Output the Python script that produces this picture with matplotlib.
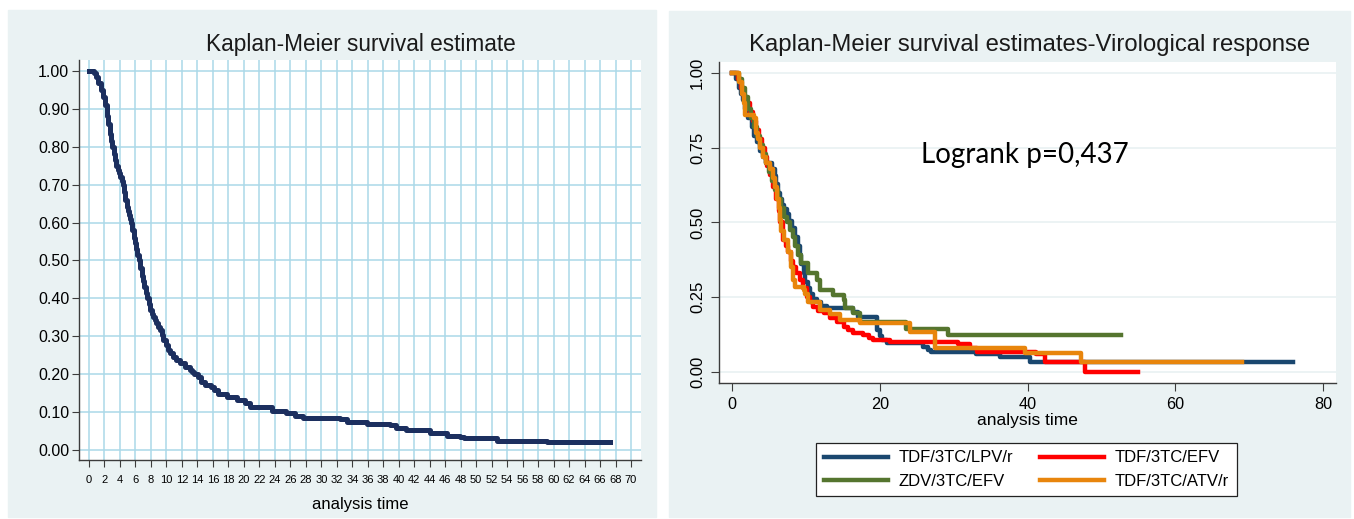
import matplotlib
matplotlib.use("Agg")
import matplotlib.pyplot as plt
from matplotlib.patches import Rectangle
import numpy as np

plt.rcParams['font.family'] = ['Liberation Sans', 'DejaVu Sans']

# overall Kaplan-Meier estimate (left panel)
km_time = [0, 0.6, 0.9, 1.2, 1.5, 1.85, 2.1, 2.3, 2.5, 2.7, 2.85, 3.0, 3.2, 3.36, 3.55, 3.7,
           3.85, 4.0, 4.2, 4.38, 4.55, 4.7, 4.87, 5.05, 5.2, 5.35, 5.46, 5.6, 5.8, 5.95, 6.1,
           6.25, 6.44, 6.6, 6.8, 6.95, 7.15, 7.35, 7.53, 7.7, 7.9, 8.1, 8.3, 8.5, 8.7, 8.95,
           9.17, 9.4, 9.6, 9.9, 10.24, 10.5, 10.8, 11.2, 11.75, 12.4, 13.0, 13.3, 13.6, 14.1,
           14.5, 14.98, 15.8, 16.2, 16.7, 17.8, 19.1, 20.1, 20.8, 23.6, 25.5, 26.6, 27.7,
           32.4, 33.3, 35.9, 38.9, 39.7, 41.0, 44.0, 46.2, 47.9, 48.4, 52.7, 59.1, 67.3]
km_surv = [1.0, 0.995, 0.985, 0.967, 0.95, 0.932, 0.91, 0.88, 0.86, 0.835, 0.815, 0.80, 0.78,
           0.765, 0.75, 0.74, 0.73, 0.72, 0.71, 0.70, 0.68, 0.66, 0.642, 0.63, 0.62, 0.61,
           0.60, 0.58, 0.56, 0.545, 0.53, 0.515, 0.50, 0.48, 0.46, 0.445, 0.43, 0.415, 0.40,
           0.385, 0.37, 0.36, 0.35, 0.342, 0.335, 0.325, 0.317, 0.303, 0.29, 0.277, 0.264,
           0.255, 0.245, 0.237, 0.229, 0.218, 0.211, 0.205, 0.20, 0.193, 0.18, 0.171, 0.165,
           0.157, 0.149, 0.141, 0.132, 0.123, 0.114, 0.103, 0.098, 0.09, 0.084, 0.081, 0.075,
           0.069, 0.066, 0.059, 0.053, 0.044, 0.037, 0.035, 0.031, 0.025, 0.020, 0.020]

# per-regimen estimates (right panel)
lpv_time = [0, 0.6, 0.9, 1.2, 1.5, 1.8, 2.2, 2.7, 3.0, 3.4, 3.8, 4.2, 4.6, 5.4, 5.8, 6.0,
            6.2, 6.5, 6.8, 7.1, 7.4, 7.7, 8.1, 8.5, 8.9, 9.2, 9.4, 9.7, 9.9, 10.3, 10.6, 11.0,
            11.5, 12.0, 12.8, 16.4, 17.1, 19.6, 20.0, 20.3, 21.0, 25.9, 26.5, 27.0, 33.0,
            36.3, 40.3, 75.9]
lpv_surv = [1.0, 0.98, 0.95, 0.93, 0.91, 0.88, 0.85, 0.82, 0.79, 0.77, 0.74, 0.72, 0.70,
            0.68, 0.655, 0.63, 0.60, 0.58, 0.56, 0.545, 0.53, 0.505, 0.48, 0.45, 0.42, 0.39,
            0.36, 0.33, 0.30, 0.28, 0.26, 0.245, 0.235, 0.22, 0.213, 0.200, 0.185, 0.14,
            0.12, 0.107, 0.096, 0.085, 0.075, 0.068, 0.06, 0.051, 0.034, 0.034]

efv_time = [0, 0.8, 1.2, 1.6, 2.0, 2.4, 2.8, 3.2, 3.6, 4.0, 4.4, 4.8, 5.2, 5.6, 6.0, 6.3,
            6.5, 6.9, 7.3, 7.6, 8.0, 8.3, 8.7, 9.2, 9.6, 10.1, 10.5, 11.0, 11.7, 12.4, 13.3,
            14.2, 15.1, 15.7, 16.4, 17.8, 18.5, 19.1, 21.4, 30.6, 32.2, 33.1, 41.2, 42.4,
            47.8, 55.0]
efv_surv = [1.0, 0.98, 0.95, 0.92, 0.90, 0.87, 0.84, 0.81, 0.78, 0.75, 0.72, 0.69, 0.66,
            0.62, 0.58, 0.54, 0.50, 0.44, 0.42, 0.40, 0.37, 0.35, 0.33, 0.308, 0.28, 0.252,
            0.235, 0.218, 0.205, 0.196, 0.182, 0.168, 0.152, 0.14, 0.129, 0.124, 0.115, 0.107,
            0.101, 0.095, 0.079, 0.068, 0.060, 0.034, 0.0, 0.0]

zdv_time = [0, 1.0, 1.4, 1.8, 2.2, 2.6, 3.0, 3.4, 3.8, 4.2, 4.6, 5.0, 5.4, 5.8, 6.2, 6.6,
            7.0, 7.4, 7.85, 8.2, 8.5, 9.0, 9.4, 10.3, 11.5, 11.9, 13.7, 15.1, 15.3, 16.4,
            17.3, 23.6, 29.3, 52.7]
zdv_surv = [1.0, 0.98, 0.95, 0.92, 0.88, 0.85, 0.82, 0.79, 0.76, 0.73, 0.70, 0.67, 0.64,
            0.61, 0.58, 0.55, 0.52, 0.50, 0.475, 0.45, 0.42, 0.39, 0.363, 0.33, 0.308, 0.274,
            0.258, 0.241, 0.213, 0.196, 0.168, 0.143, 0.124, 0.124]

atv_time = [0, 1.0, 1.3, 1.6, 1.8, 3.0, 3.2, 3.5, 3.8, 4.2, 4.6, 5.1, 5.5, 5.8, 6.1, 6.3,
            6.5, 6.7, 7.1, 7.6, 8.0, 8.3, 8.5, 9.7, 9.9, 10.3, 11.9, 13.3, 14.6, 17.3, 24.1,
            27.5, 39.7, 47.3, 69.0]
atv_surv = [1.0, 0.97, 0.93, 0.90, 0.86, 0.85, 0.80, 0.78, 0.75, 0.72, 0.70, 0.68, 0.65,
            0.62, 0.58, 0.55, 0.51, 0.47, 0.44, 0.40, 0.35, 0.308, 0.285, 0.275, 0.26, 0.235,
            0.207, 0.195, 0.174, 0.163, 0.135, 0.079, 0.062, 0.034, 0.034]

W, H = 1354, 519
bg = '#EAF2F3'
spine_col = '#3c3c3c'

fig = plt.figure(figsize=(W / 100, H / 100), dpi=100, facecolor='white')

# panel backgrounds (behind the axes)
fig.patches.append(Rectangle((8 / W, 1 - 517 / H), (656 - 8) / W, (517 - 10) / H,
                             transform=fig.transFigure, color=bg, zorder=-10))
fig.patches.append(Rectangle((669 / W, 1 - 517 / H), (1350 - 669) / W, (517 - 11) / H,
                             transform=fig.transFigure, color=bg, zorder=-10))

def px_axes(x0, x1, ytop, ybot):
    return fig.add_axes([x0 / W, 1 - ybot / H, (x1 - x0) / W, (ybot - ytop) / H])

# ---------------- left panel
ax1 = px_axes(79, 641, 60, 460)
ax1.set_facecolor('white')
ax1.step(km_time, km_surv, where='post', color='#1c2f5f', lw=3.6, zorder=3)
ax1.set_xlim(-1.29, 71.29)
ax1.set_ylim(-0.0264, 1.029)
ax1.set_xticks(np.arange(0, 71, 2))
ax1.set_yticks(np.arange(0, 1.01, 0.1))
ax1.set_yticklabels([f"{v:.2f}" for v in np.arange(0, 1.01, 0.1)])
ax1.grid(True, color='#ABD8E8', lw=1.1)
ax1.set_axisbelow(True)
for s in ['top', 'right']:
    ax1.spines[s].set_visible(False)
for s in ['left', 'bottom']:
    ax1.spines[s].set_color(spine_col)
    ax1.spines[s].set_linewidth(1.0)
ax1.tick_params(axis='x', labelsize=8, length=5, color=spine_col, pad=6)
ax1.tick_params(axis='y', labelsize=11.5, length=5, color=spine_col, pad=2)
fig.text(361 / W, 1 - 44 / H, 'Kaplan-Meier survival estimate', ha='center', va='center',
         fontsize=16.3, color='#1a1a1a')
fig.text(360 / W, 1 - 504 / H, 'analysis time', ha='center', va='center', fontsize=12)

# ---------------- right panel
ax2 = px_axes(719, 1336, 62, 383)
ax2.set_facecolor('white')
l_lpv, = ax2.step(lpv_time, lpv_surv, where='post', color='#1a476f', lw=3.2, zorder=3)
l_efv, = ax2.step(efv_time, efv_surv, where='post', color='#ff0000', lw=3.2, zorder=4)
l_zdv, = ax2.step(zdv_time, zdv_surv, where='post', color='#55752f', lw=3.2, zorder=5)
l_atv, = ax2.step(atv_time, atv_surv, where='post', color='#e8850c', lw=3.2, zorder=6)
ax2.set_xlim(-1.76, 81.76)
ax2.set_ylim(-0.037, 1.037)
ax2.set_xticks([0, 20, 40, 60, 80])
ax2.set_yticks([0, 0.25, 0.5, 0.75, 1.0])
ax2.set_yticklabels(['0.00', '0.25', '0.50', '0.75', '1.00'], rotation=90, va='center')
ax2.yaxis.grid(True, color=bg, lw=1.3)
ax2.set_axisbelow(True)
for s in ['top', 'right']:
    ax2.spines[s].set_visible(False)
for s in ['left', 'bottom']:
    ax2.spines[s].set_color(spine_col)
    ax2.spines[s].set_linewidth(1.0)
ax2.tick_params(axis='x', labelsize=11.7, length=6, color=spine_col, pad=4)
ax2.tick_params(axis='y', labelsize=12, length=6, color=spine_col, pad=4)
ax2.text(1025 / W, 1 - 155 / H, 'Logrank p=0,437', transform=fig.transFigure, ha='center',
         va='center', fontsize=20, family=['Lato', 'DejaVu Sans'])
fig.text(1030 / W, 1 - 45 / H, 'Kaplan-Meier survival estimates-Virological response',
         ha='center', va='center', fontsize=17.2, color='#1a1a1a')
fig.text(1027 / W, 1 - 420 / H, 'analysis time', ha='center', va='center', fontsize=12.5)

leg = fig.legend([l_lpv, l_zdv, l_efv, l_atv],
                 ['TDF/3TC/LPV/r', 'ZDV/3TC/EFV', 'TDF/3TC/EFV', 'TDF/3TC/ATV/r'],
                 ncol=2, loc='upper center', bbox_to_anchor=(1026.5 / W, 1 - 443 / H),
                 fontsize=12, handlelength=3.85, handletextpad=0.65, columnspacing=1.6,
                 labelspacing=0.5, borderpad=0.45, borderaxespad=0, fancybox=False,
                 framealpha=1, edgecolor='#222222')
leg.get_frame().set_linewidth(0.9)

fig.savefig('out.png', dpi=100)
